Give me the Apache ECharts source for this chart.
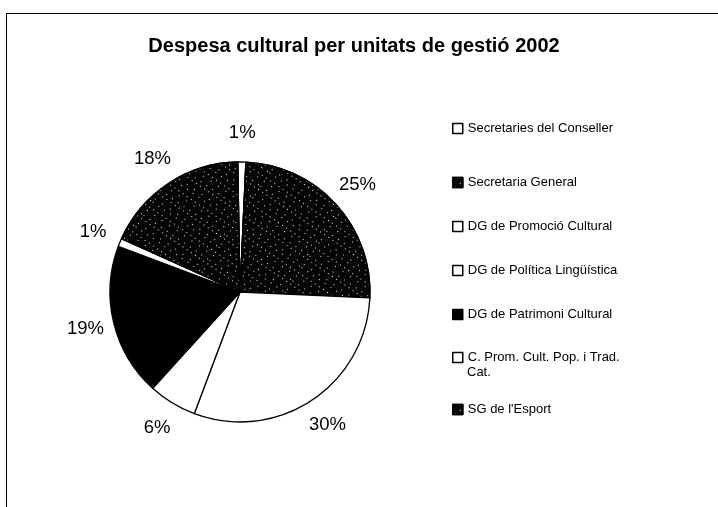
<!DOCTYPE html>
<html><head><meta charset="utf-8">
<script src="https://cdn.jsdelivr.net/npm/echarts@6/dist/echarts.min.js"></script>
<style>
html,body{margin:0;padding:0;background:#fff;}
#frame{position:absolute;left:6px;top:13px;width:712px;height:494px;border-top:1px solid #000;border-left:1px solid #000;}
#c{position:absolute;left:0;top:0;width:718px;height:507px;}
</style></head><body>
<div id="frame"></div>
<div id="c"></div>
<script>
const categories = ["Secretaries del Conseller","Secretaria General","DG de Promoció Cultural","DG de Política Lingüística","DG de Patrimoni Cultural","C. Prom. Cult. Pop. i Trad.\nCat.","SG de l'Esport"];
const values = [1, 25, 30, 6, 19, 1, 18];
const title = "Despesa cultural per unitats de gestió 2002";

const speck = {symbol:'rect', symbolSize:0.9, color:'#fff', dashArrayX:[[1,6],[1,4],[1,8]], dashArrayY:[1,5,1,3], rotation:0.6, maxTileWidth:80, maxTileHeight:80};
const fills = [
  {color:'#fff'},
  {color:'#050505', decal:speck},
  {color:'#fff'},
  {color:'#fff'},
  {color:'#000'},
  {color:'#fff'},
  {color:'#050505', decal:speck}
];
const data = categories.map((n,i)=>({name:n, value:values[i], itemStyle:Object.assign({borderColor:'#000', borderWidth:1.3}, fills[i])}));
const labelData = categories.map((n,i)=>({name:n, value:values[i]}));

const font = 'Liberation Sans, Arial, sans-serif';
const legBase = {orient:'vertical', left:452, itemWidth:10, itemHeight:10, padding:0, selectedMode:false, icon:'rect',
  textStyle:{fontFamily:font, fontSize:13, color:'#000'}, itemStyle:{borderColor:'#000', borderWidth:1.5}};

const chart = echarts.init(document.getElementById('c'));
chart.setOption({
  backgroundColor:'transparent',
  animation:false,
  title:{text:title, top:36, padding:0, left:354, textAlign:'center', textStyle:{fontFamily:font, fontSize:20, fontWeight:'bold', color:'#000'}},
  legend:[
    Object.assign({}, legBase, {top:122, data:[categories[0]]}),
    Object.assign({}, legBase, {top:176, data:categories.slice(1,5), itemGap:31}),
    Object.assign({}, legBase, {top:351, data:[categories[5]], formatter:n=>n.split('\n')[0]}),
    Object.assign({}, legBase, {top:366, data:[{name:categories[5], itemStyle:{color:'rgba(0,0,0,0)', borderColor:'rgba(0,0,0,0)', borderWidth:0}}], formatter:n=>n.split('\n')[1]}),
    Object.assign({}, legBase, {top:403, data:[categories[6]]})
  ],
  series:[
    {type:'pie', radius:130, center:[240,292], startAngle:91, clockwise:true, data:data,
     label:{show:false}, labelLine:{show:false}, emphasis:{disabled:true}, silent:true},
    {type:'pie', radius:[130,182], center:[240,292], startAngle:91, clockwise:true, data:labelData,
     itemStyle:{color:'rgba(0,0,0,0)', borderWidth:0}, silent:true, emphasis:{disabled:true},
     label:{show:true, position:'inside', formatter:'{d}%', fontFamily:font, fontSize:18.5, color:'#000'},
     labelLine:{show:false}}
  ]
});
</script>
</body></html>
